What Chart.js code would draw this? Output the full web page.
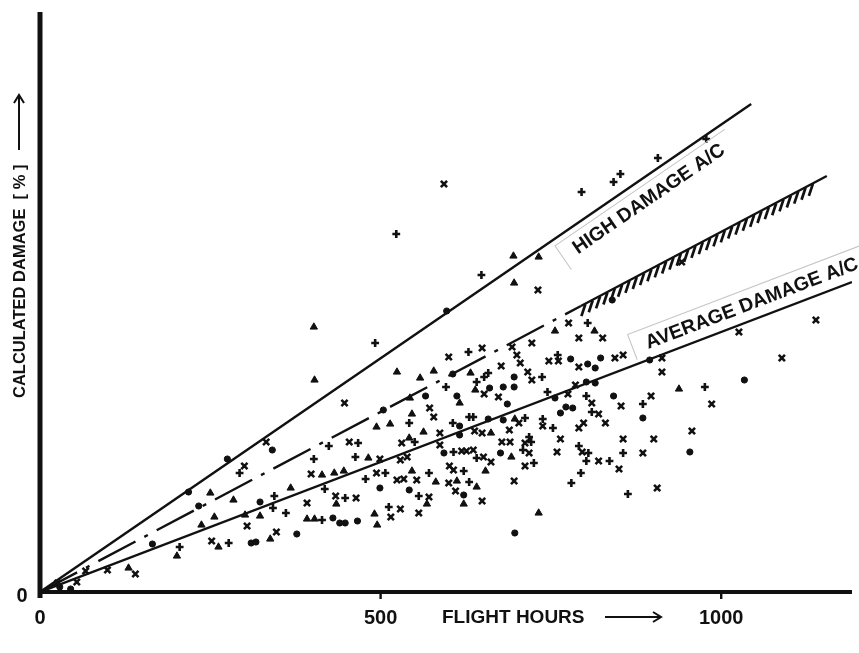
<!DOCTYPE html>
<html>
<head>
<meta charset="utf-8">
<script src="https://cdn.jsdelivr.net/npm/chart.js@4.4.1/dist/chart.umd.min.js"></script>
<style>
  html, body { margin: 0; padding: 0; background: #fff; }
  #wrap { width: 859px; height: 653px; }
</style>
</head>
<body>
<div id="wrap"><canvas id="chart" width="859" height="653"></canvas></div>
<script>
// Calculated damage vs flight hours — scatter of aircraft with high / average damage reference lines.

const X_MAX = 1192;
const Y_MAX = 58;
const X_TICKS = [0, 500, 1000];
const Y_TICKS = [0];
const X_TITLE = 'FLIGHT HOURS';
const Y_TITLE = 'CALCULATED DAMAGE  [ % ]';

// reference lines [flight hours, damage]
const HIGH_LINE = [[0, 0], [1044, 48.8]];
const AVERAGE_LINE = [[0, 0], [1192, 31.0]];
const TREND_LINE = [[0, 0], [794, 28.6]];
const LIMIT_LINE = [[794, 28.6], [1155, 41.6]];
const HIGH_LABEL = 'HIGH DAMAGE A/C';
const AVERAGE_LABEL = 'AVERAGE DAMAGE A/C';

// scatter, one list per marker symbol
const TRI_PTS = [
  [130,2.4],[201,3.6],[237,6.7],[250,9.9],[256,7.5],[262,4.5],[284,9.2],[301,7.7],[323,7.6],[338,5.3],
  [368,10.4],[392,7.3],[403,7.3],[403,21.2],[402,26.5],[414,11.7],[432,11.9],[435,8.8],[446,12.1],[482,13.4],
  [491,7.8],[494,16.5],[495,6.7],[514,16.8],[524,22.0],[542,15.4],[543,19.4],[546,17.8],[546,12.1],[558,21.4],
  [563,16.0],[568,8.8],[578,22.1],[581,11.0],[612,11.1],[616,18.9],[622,8.8],[632,21.9],[639,20.2],[641,10.5],
  [654,12.1],[662,15.9],[692,13.5],[695,33.6],[696,30.9],[697,17.3],[732,33.5],[732,7.9],[756,26.1],[814,26.1],
  [938,20.3],
];
const CROSS_PTS = [
  [26,0.9],[54,1.0],[67,2.1],[99,2.2],[140,1.8],[252,5.1],[300,12.6],[304,6.6],[332,15.0],[347,6.0],
  [392,8.9],[398,11.8],[434,9.6],[447,18.9],[454,15.0],[464,9.4],[494,11.9],[499,13.3],[515,7.5],[524,11.2],
  [529,13.2],[529,8.3],[531,14.9],[534,11.3],[539,13.5],[553,11.2],[556,7.9],[571,9.5],[572,18.4],[578,17.5],
  [587,15.9],[587,14.7],[593,40.8],[600,23.5],[600,10.9],[601,12.6],[607,12.2],[610,10.1],[619,14.1],[626,14.1],
  [636,14.2],[638,16.1],[649,24.4],[649,15.9],[649,9.1],[651,13.5],[652,19.8],[662,13.0],[673,19.5],[677,22.6],
  [678,15.0],[689,16.2],[690,15.0],[693,24.5],[696,11.1],[700,23.7],[703,16.9],[705,22.9],[712,14.9],[712,12.6],
  [716,22.0],[718,13.9],[722,24.9],[722,21.2],[731,30.2],[738,16.6],[747,23.1],[759,14.0],[761,23.1],[764,15.3],
  [775,19.8],[776,26.9],[786,20.7],[791,25.4],[791,22.5],[791,16.4],[798,16.9],[796,14.0],[810,18.9],[820,17.8],
  [820,13.1],[826,25.4],[830,16.9],[844,23.4],[850,12.3],[853,18.6],[856,15.3],[856,23.7],[885,13.9],[897,19.6],
  [901,15.3],[906,10.4],[913,23.4],[913,22.0],[942,33.0],[957,16.1],[986,18.8],[1026,26.0],[1089,23.4],[1139,27.2],
];
const PLUS_PTS = [
  [205,4.5],[277,4.9],[293,11.9],[342,8.4],[344,9.6],[361,7.9],[402,13.3],[414,7.2],[418,10.3],[424,14.6],
  [448,9.4],[463,13.5],[467,14.9],[478,11.3],[492,24.9],[507,11.9],[512,8.5],[523,35.8],[542,16.9],[550,15.0],
  [556,9.6],[571,11.9],[596,20.5],[606,16.9],[607,14.0],[622,12.1],[629,24.0],[630,17.5],[636,17.5],[630,11.0],
  [641,21.0],[641,13.4],[648,31.7],[652,21.5],[658,21.9],[709,14.2],[712,17.4],[718,15.5],[721,15.0],[725,12.9],
  [737,21.5],[738,17.3],[745,20.0],[753,16.4],[760,23.7],[780,10.9],[791,14.6],[794,11.9],[795,40.0],[802,19.6],
  [802,13.1],[804,26.9],[805,13.9],[810,18.0],[836,13.1],[842,41.0],[852,41.8],[856,13.9],[863,9.8],[885,18.8],
  [907,43.4],[976,20.5],[978,45.3],
];
const DOT_PTS = [
  [29,0.5],[45,0.3],[165,4.8],[218,10.0],[233,8.6],[275,13.3],[310,4.9],[317,5.0],[323,9.0],[341,14.2],
  [377,5.8],[430,7.4],[440,6.9],[448,6.9],[466,7.1],[499,10.4],[504,18.2],[542,10.2],[566,19.6],[593,13.9],
  [597,28.1],[606,21.8],[612,19.6],[616,16.6],[616,15.7],[622,9.7],[658,17.3],[660,20.4],[676,13.9],[680,20.5],
  [680,17.2],[686,18.8],[696,21.5],[696,20.5],[697,5.9],[756,19.4],[764,17.9],[772,18.5],[782,18.4],[779,23.3],
  [802,21.0],[804,22.8],[815,20.9],[815,22.4],[823,23.4],[840,29.2],[842,19.6],[885,17.4],[895,23.2],[954,14.0],
  [1034,21.2],
];

const INK = '#111';
const FONT = '"Liberation Sans", Arial, Helvetica, sans-serif';
const xy = (arr) => arr.map(([x, y]) => ({ x, y }));

const lineSet = (data, extra = {}) => ({
  type: 'line', data: xy(data), showLine: true, borderColor: INK, borderWidth: 2.4,
  pointRadius: 0, fill: false, tension: 0, ...extra,
});
const markSet = (data, style, radius, extra = {}) => ({
  type: 'scatter', data: xy(data), pointStyle: style, pointRadius: radius,
  backgroundColor: INK, borderColor: INK, borderWidth: 1, ...extra,
});

// point on a 2-point line at flight hours x, in pixels
function onLine(chart, line, x) {
  const [[x0, y0], [x1, y1]] = line;
  const sx = chart.scales.x, sy = chart.scales.y;
  const y = y0 + (x - x0) * (y1 - y0) / (x1 - x0);
  const a = Math.atan2(sy.getPixelForValue(y1) - sy.getPixelForValue(y0), sx.getPixelForValue(x1) - sx.getPixelForValue(x0));
  return { px: sx.getPixelForValue(x), py: sy.getPixelForValue(y), a };
}

function lineLabel(ctx, chart, line, x, text, base, boxTop, boxBottom) {
  const p = onLine(chart, line, x);
  ctx.save();
  ctx.translate(p.px, p.py);
  ctx.rotate(p.a);
  ctx.font = `bold 19.5px ${FONT}`;
  const w = ctx.measureText(text).width;
  // faint paste-up box edges
  ctx.strokeStyle = '#c4c4c4';
  ctx.lineWidth = 1;
  ctx.beginPath();
  ctx.moveTo(-14, boxBottom); ctx.lineTo(-14, boxTop); ctx.lineTo(w + 12, boxTop);
  ctx.stroke();
  ctx.fillStyle = INK;
  ctx.textBaseline = 'alphabetic';
  ctx.fillText(text, 0, base);
  ctx.restore();
}

const paper = {
  id: 'paper',
  afterDatasetsDraw(chart) {
    const { ctx, chartArea: ca, scales: { x: sx, y: sy } } = chart;
    ctx.save();

    // hatching under the upper limit line
    const p0 = onLine(chart, LIMIT_LINE, LIMIT_LINE[0][0]);
    const p1 = onLine(chart, LIMIT_LINE, LIMIT_LINE[1][0]);
    const len = Math.hypot(p1.px - p0.px, p1.py - p0.py);
    ctx.strokeStyle = INK; ctx.lineWidth = 2.7;
    for (let s = 4; s < len - 16; s += 8.3) {
      const hx = p0.px + Math.cos(p0.a) * s, hy = p0.py + Math.sin(p0.a) * s;
      ctx.beginPath(); ctx.moveTo(hx + 1, hy); ctx.lineTo(hx - 3, hy + 12); ctx.stroke();
    }

    // axes
    ctx.fillStyle = INK;
    ctx.fillRect(ca.left - 2.5, ca.top, 5, ca.bottom - ca.top + 6);
    ctx.fillRect(ca.left - 2, ca.bottom - 2, ca.right - ca.left + 2, 4);
    X_TICKS.filter((v) => v > 0).forEach((v) => ctx.fillRect(sx.getPixelForValue(v) - 1.2, ca.bottom, 2.4, 7));

    ctx.font = `bold 20px ${FONT}`;
    ctx.textAlign = 'center'; ctx.textBaseline = 'middle';
    X_TICKS.forEach((v) => ctx.fillText(String(v), sx.getPixelForValue(v), ca.bottom + 26));
    Y_TICKS.forEach((v) => ctx.fillText(String(v), ca.left - 18, sy.getPixelForValue(v) + 4));

    // x title with arrow
    ctx.font = `bold 19px ${FONT}`;
    ctx.textAlign = 'left';
    ctx.fillText(X_TITLE, 442, ca.bottom + 26);
    ctx.lineWidth = 2;
    ctx.beginPath(); ctx.moveTo(605, ca.bottom + 25); ctx.lineTo(660, ca.bottom + 25); ctx.stroke();
    ctx.beginPath(); ctx.moveTo(653, ca.bottom + 20); ctx.lineTo(661, ca.bottom + 25); ctx.lineTo(653, ca.bottom + 30); ctx.stroke();

    // y title with arrow
    ctx.save();
    ctx.translate(25, 398);
    ctx.rotate(-Math.PI / 2);
    ctx.font = `bold 16.5px ${FONT}`;
    ctx.textBaseline = 'alphabetic';
    ctx.fillText(Y_TITLE, 0, 0);
    ctx.beginPath(); ctx.moveTo(248, -6); ctx.lineTo(302, -6); ctx.stroke();
    ctx.beginPath(); ctx.moveTo(295, -11); ctx.lineTo(303, -6); ctx.lineTo(295, -1); ctx.stroke();
    ctx.restore();

    // line labels
    lineLabel(ctx, chart, HIGH_LINE, 768, HIGH_LABEL, 26, 6, 35);
    lineLabel(ctx, chart, AVERAGE_LINE, 898, AVERAGE_LABEL, -10, -31, -4);

    ctx.restore();
  },
};

new Chart(document.getElementById('chart'), {
  data: {
    datasets: [
      lineSet(HIGH_LINE),
      lineSet(AVERAGE_LINE),
      lineSet(TREND_LINE, { borderDash: [42, 10, 4, 10] }),
      lineSet(LIMIT_LINE),
      markSet(TRI_PTS, 'triangle', 4.2),
      markSet(CROSS_PTS, 'crossRot', 4.4, { borderWidth: 2.6 }),
      markSet(PLUS_PTS, 'cross', 3.9, { borderWidth: 2.6 }),
      markSet(DOT_PTS, 'circle', 3.1),
    ],
  },
  options: {
    responsive: false,
    animation: false,
    layout: { padding: { left: 40, top: 12, right: 0, bottom: 61 } },
    plugins: { legend: { display: false }, tooltip: { enabled: false } },
    scales: {
      x: { type: 'linear', min: 0, max: X_MAX, display: false },
      y: { type: 'linear', min: 0, max: Y_MAX, display: false },
    },
  },
  plugins: [paper],
});
</script>
</body>
</html>
